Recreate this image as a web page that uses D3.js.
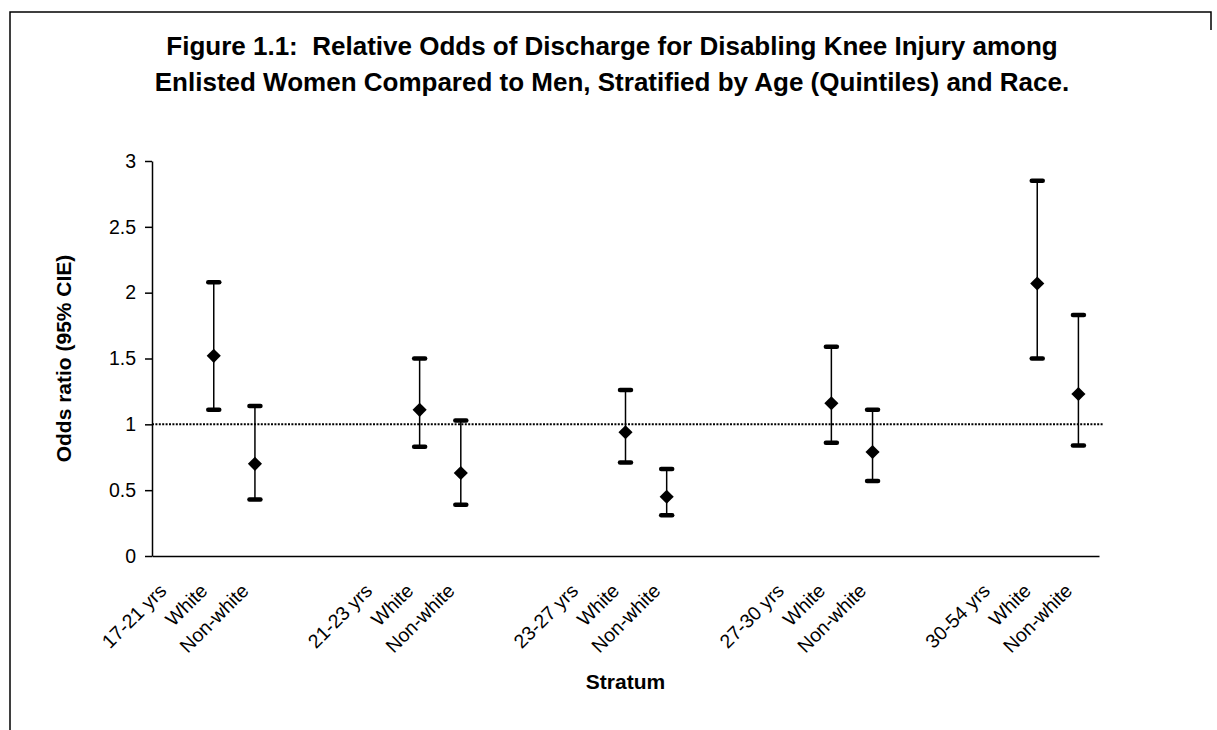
<!DOCTYPE html>
<html>
<head>
<meta charset="utf-8">
<script src="https://cdn.jsdelivr.net/npm/d3@7"></script>
<style>
  body { margin: 0; background: #fff; }
  svg text { font-family: "Liberation Sans", Arial, Helvetica, sans-serif; fill: #000; }
</style>
</head>
<body>
<svg id="chart"></svg>
<script>
const width = 1217;
const height = 730;
const margin = { top: 161, right: 118, bottom: 174, left: 152 };

// chart values
const titleLines = [
  "Figure 1.1:  Relative Odds of Discharge for Disabling Knee Injury among",
  "Enlisted Women Compared to Men, Stratified by Age (Quintiles) and Race."
];
const strata = ["17-21 yrs", "21-23 yrs", "23-27 yrs", "27-30 yrs", "30-54 yrs"];
const races = ["White", "Non-white"];
// one value per stratum x race, in order White, Non-white
const oddsRatio = [1.52, 0.70, 1.11, 0.63, 0.94, 0.45, 1.16, 0.79, 2.07, 1.23];
const lowerCI   = [1.11, 0.43, 0.83, 0.39, 0.71, 0.31, 0.86, 0.57, 1.50, 0.84];
const upperCI   = [2.08, 1.14, 1.50, 1.03, 1.26, 0.66, 1.59, 1.11, 2.85, 1.83];
const yTicks = [0, 0.5, 1, 1.5, 2, 2.5, 3];
const refValue = 1;

// category slots like the spreadsheet: stratum label, White, Non-white, two blanks
const slots = [];
strata.forEach((s, i) => {
  slots.push({ key: s, label: s });
  races.forEach(r => slots.push({ key: s + "|" + r, label: r }));
  if (i < strata.length - 1) {
    slots.push({ key: s + "|gap1", label: "" });
    slots.push({ key: s + "|gap2", label: "" });
  }
});
const labelOf = new Map(slots.map(d => [d.key, d.label]));

const points = [];
strata.forEach((s, i) => {
  races.forEach((r, j) => {
    const k = i * races.length + j;
    points.push({ key: s + "|" + r, or: oddsRatio[k], lo: lowerCI[k], hi: upperCI[k] });
  });
});

const svg = d3.select("#chart")
    .attr("width", width)
    .attr("height", height);

// frame of the figure
svg.append("path")
    .attr("d", `M10,${height + 5}V12H1211V30`)
    .attr("fill", "none")
    .attr("stroke", "#000")
    .attr("stroke-width", 1.5);

const xScale = d3.scaleBand()
    .domain(slots.map(d => d.key))
    .range([margin.left, width - margin.right]);

const yScale = d3.scaleLinear()
    .domain([0, 3])
    .range([height - margin.bottom, margin.top]);

// title
svg.append("text")
    .attr("x", 612)
    .attr("y", 55)
    .attr("text-anchor", "middle")
    .style("font-size", "26px")
    .style("font-weight", "bold")
    .style("white-space", "pre")
    .selectAll("tspan")
    .data(titleLines)
    .join("tspan")
    .attr("x", 612)
    .attr("dy", (d, i) => i === 0 ? 0 : 36)
    .text(d => d);

// y axis
const yAxis = svg.append("g")
    .attr("transform", `translate(${margin.left},0)`)
    .call(d3.axisLeft(yScale)
        .tickValues(yTicks)
        .tickFormat(d => d)
        .tickSize(7)
        .tickPadding(9)
        .tickSizeOuter(0));
yAxis.selectAll("path, line").attr("stroke", "#000").attr("stroke-width", 1.5);
yAxis.selectAll("text").style("font-size", "19.5px").attr("fill", "#000");

// x axis
const xAxis = svg.append("g")
    .attr("transform", `translate(0,${height - margin.bottom})`)
    .call(d3.axisBottom(xScale)
        .tickSize(0)
        .tickSizeOuter(0)
        .tickFormat(k => labelOf.get(k)));
xAxis.select(".domain").attr("stroke", "#000").attr("stroke-width", 1.5);
xAxis.selectAll("text")
    .attr("x", 0)
    .attr("y", 0)
    .attr("dy", 0)
    .attr("transform", "translate(-5,36) rotate(-45)")
    .style("text-anchor", "end")
    .style("font-size", "19.5px")
    .attr("fill", "#000");

// reference line at odds ratio 1
svg.append("line")
    .attr("x1", margin.left)
    .attr("x2", width - margin.right + 5)
    .attr("y1", yScale(refValue))
    .attr("y2", yScale(refValue))
    .attr("stroke", "#000")
    .attr("stroke-width", 2)
    .attr("stroke-dasharray", "2,1.4");

// error bars
const cx = d => xScale(d.key) + xScale.bandwidth() / 2;
const bars = svg.append("g").selectAll("g")
    .data(points)
    .join("g");

bars.append("line")
    .attr("x1", cx).attr("x2", cx)
    .attr("y1", d => yScale(d.lo))
    .attr("y2", d => yScale(d.hi))
    .attr("stroke", "#000")
    .attr("stroke-width", 1.5);

bars.selectAll(".cap")
    .data(d => [{ x: cx(d), v: d.lo }, { x: cx(d), v: d.hi }])
    .join("line")
    .attr("class", "cap")
    .attr("x1", c => c.x - 5.5)
    .attr("x2", c => c.x + 5.5)
    .attr("y1", c => yScale(c.v))
    .attr("y2", c => yScale(c.v))
    .attr("stroke", "#000")
    .attr("stroke-width", 4.5)
    .attr("stroke-linecap", "round");

bars.append("path")
    .attr("d", d3.symbol(d3.symbolSquare, 100))
    .attr("transform", d => `translate(${cx(d)},${yScale(d.or)}) rotate(45)`)
    .attr("fill", "#000");

// axis titles
svg.append("text")
    .attr("transform", `translate(71,${(margin.top + height - margin.bottom) / 2}) rotate(-90)`)
    .attr("text-anchor", "middle")
    .style("font-size", "21px")
    .style("font-weight", "bold")
    .text("Odds ratio (95% CIE)");

svg.append("text")
    .attr("x", (margin.left + width - margin.right) / 2)
    .attr("y", 689)
    .attr("text-anchor", "middle")
    .style("font-size", "21px")
    .style("font-weight", "bold")
    .text("Stratum");
</script>
</body>
</html>
